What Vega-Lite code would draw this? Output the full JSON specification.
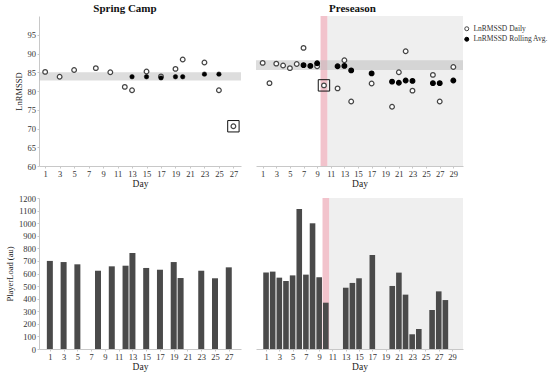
{
  "$schema": "https://vega.github.io/schema/vega-lite/v6.json",
  "padding": {"left": 5, "top": 3, "right": 5, "bottom": 5},
  "config": {
    "font": "Liberation Serif",
    "view": {"stroke": null},
    "axis": {"domainColor": "#c8c8c8", "tickColor": "#c8c8c8", "tickSize": 2, "labelFontSize": 8.5, "labelColor": "#333333", "titleFontSize": 9.5, "titleFontWeight": "normal", "titleColor": "#222222", "grid": false, "labelPadding": 1.5, "labelOverlap": false, "labelFlush": false, "format": "d"},
    "title": {"fontSize": 11, "fontWeight": "bold", "color": "#111111", "offset": 2}
  },
  "datasets": {
    "springHRV": [
      {"day": 1, "series": "LnRMSSD Daily", "value": 85.1, "flag": false},
      {"day": 3, "series": "LnRMSSD Daily", "value": 83.8, "flag": false},
      {"day": 5, "series": "LnRMSSD Daily", "value": 85.6, "flag": false},
      {"day": 8, "series": "LnRMSSD Daily", "value": 86.1, "flag": false},
      {"day": 10, "series": "LnRMSSD Daily", "value": 85.0, "flag": false},
      {"day": 12, "series": "LnRMSSD Daily", "value": 81.1, "flag": false},
      {"day": 13, "series": "LnRMSSD Daily", "value": 80.2, "flag": false},
      {"day": 15, "series": "LnRMSSD Daily", "value": 85.2, "flag": false},
      {"day": 17, "series": "LnRMSSD Daily", "value": 83.9, "flag": false},
      {"day": 19, "series": "LnRMSSD Daily", "value": 85.9, "flag": false},
      {"day": 20, "series": "LnRMSSD Daily", "value": 88.4, "flag": false},
      {"day": 23, "series": "LnRMSSD Daily", "value": 87.6, "flag": false},
      {"day": 25, "series": "LnRMSSD Daily", "value": 80.2, "flag": false},
      {"day": 27, "series": "LnRMSSD Daily", "value": 70.6, "flag": true},
      {"day": 13, "series": "LnRMSSD Rolling Avg.", "value": 83.8, "flag": false},
      {"day": 15, "series": "LnRMSSD Rolling Avg.", "value": 83.8, "flag": false},
      {"day": 17, "series": "LnRMSSD Rolling Avg.", "value": 83.5, "flag": false},
      {"day": 19, "series": "LnRMSSD Rolling Avg.", "value": 83.8, "flag": false},
      {"day": 20, "series": "LnRMSSD Rolling Avg.", "value": 83.8, "flag": false},
      {"day": 23, "series": "LnRMSSD Rolling Avg.", "value": 84.5, "flag": false},
      {"day": 25, "series": "LnRMSSD Rolling Avg.", "value": 84.5, "flag": false}
    ],
    "preHRV": [
      {"day": 1, "series": "LnRMSSD Daily", "value": 87.5, "flag": false},
      {"day": 2, "series": "LnRMSSD Daily", "value": 82.1, "flag": false},
      {"day": 3, "series": "LnRMSSD Daily", "value": 87.3, "flag": false},
      {"day": 4, "series": "LnRMSSD Daily", "value": 86.8, "flag": false},
      {"day": 5, "series": "LnRMSSD Daily", "value": 86.1, "flag": false},
      {"day": 6, "series": "LnRMSSD Daily", "value": 87.2, "flag": false},
      {"day": 7, "series": "LnRMSSD Daily", "value": 91.5, "flag": false},
      {"day": 9, "series": "LnRMSSD Daily", "value": 86.6, "flag": false},
      {"day": 10, "series": "LnRMSSD Daily", "value": 81.5, "flag": true},
      {"day": 12, "series": "LnRMSSD Daily", "value": 80.7, "flag": false},
      {"day": 13, "series": "LnRMSSD Daily", "value": 88.2, "flag": false},
      {"day": 14, "series": "LnRMSSD Daily", "value": 77.2, "flag": false},
      {"day": 17, "series": "LnRMSSD Daily", "value": 82.0, "flag": false},
      {"day": 20, "series": "LnRMSSD Daily", "value": 75.8, "flag": false},
      {"day": 21, "series": "LnRMSSD Daily", "value": 85.0, "flag": false},
      {"day": 22, "series": "LnRMSSD Daily", "value": 90.6, "flag": false},
      {"day": 23, "series": "LnRMSSD Daily", "value": 80.1, "flag": false},
      {"day": 26, "series": "LnRMSSD Daily", "value": 84.3, "flag": false},
      {"day": 27, "series": "LnRMSSD Daily", "value": 77.2, "flag": false},
      {"day": 29, "series": "LnRMSSD Daily", "value": 86.4, "flag": false},
      {"day": 7, "series": "LnRMSSD Rolling Avg.", "value": 86.9, "flag": false},
      {"day": 8, "series": "LnRMSSD Rolling Avg.", "value": 86.7, "flag": false},
      {"day": 9, "series": "LnRMSSD Rolling Avg.", "value": 87.4, "flag": false},
      {"day": 12, "series": "LnRMSSD Rolling Avg.", "value": 86.6, "flag": false},
      {"day": 13, "series": "LnRMSSD Rolling Avg.", "value": 86.7, "flag": false},
      {"day": 14, "series": "LnRMSSD Rolling Avg.", "value": 85.5, "flag": false},
      {"day": 17, "series": "LnRMSSD Rolling Avg.", "value": 84.7, "flag": false},
      {"day": 20, "series": "LnRMSSD Rolling Avg.", "value": 82.5, "flag": false},
      {"day": 21, "series": "LnRMSSD Rolling Avg.", "value": 82.2, "flag": false},
      {"day": 22, "series": "LnRMSSD Rolling Avg.", "value": 82.8, "flag": false},
      {"day": 23, "series": "LnRMSSD Rolling Avg.", "value": 82.7, "flag": false},
      {"day": 26, "series": "LnRMSSD Rolling Avg.", "value": 82.1, "flag": false},
      {"day": 27, "series": "LnRMSSD Rolling Avg.", "value": 82.1, "flag": false},
      {"day": 29, "series": "LnRMSSD Rolling Avg.", "value": 82.8, "flag": false}
    ],
    "springBand": [{"low": 82.8, "high": 85.0}],
    "preBand": [{"low": 85.6, "high": 88.2}],
    "phases": [
      {"phase": "transition", "start": 9.5, "end": 10.5},
      {"phase": "preseason", "start": 10.5, "end": 31}
    ],
    "springLoad": [
      {"day": 1, "load": 700}, {"day": 3, "load": 691}, {"day": 5, "load": 673},
      {"day": 8, "load": 622}, {"day": 10, "load": 657}, {"day": 12, "load": 662},
      {"day": 13, "load": 763}, {"day": 15, "load": 644}, {"day": 17, "load": 630},
      {"day": 19, "load": 691}, {"day": 20, "load": 564}, {"day": 23, "load": 622},
      {"day": 25, "load": 562}, {"day": 27, "load": 649}
    ],
    "preLoad": [
      {"day": 1, "load": 607}, {"day": 2, "load": 615}, {"day": 3, "load": 567},
      {"day": 4, "load": 540}, {"day": 5, "load": 585}, {"day": 6, "load": 1113},
      {"day": 7, "load": 591}, {"day": 8, "load": 999}, {"day": 9, "load": 570},
      {"day": 10, "load": 368}, {"day": 13, "load": 487}, {"day": 14, "load": 525},
      {"day": 15, "load": 562}, {"day": 17, "load": 747}, {"day": 20, "load": 501},
      {"day": 21, "load": 607}, {"day": 22, "load": 432}, {"day": 23, "load": 117},
      {"day": 24, "load": 159}, {"day": 26, "load": 310}, {"day": 27, "load": 458},
      {"day": 28, "load": 389}
    ]
  },
  "columns": 2,
  "spacing": {"row": 6, "column": 14},
  "concat": [
    {
      "width": 202, "height": 150,
      "title": {"text": "Spring Camp", "dx": -15},
      "layer": [
        {
          "data": {"name": "springBand"},
          "mark": {"type": "rect", "fill": "#bbbbbb", "opacity": 0.5},
          "encoding": {
            "x": {"value": 0}, "x2": {"value": "width"},
            "y": {"field": "low", "type": "quantitative", "scale": {"domain": [60, 100], "nice": false, "zero": false}, "title": "LnRMSSD", "axis": {"values": [60, 65, 70, 75, 80, 85, 90, 95], "titleFontSize": 8.5, "labelOverlap": false}},
            "y2": {"field": "high"}
          }
        },
        {
          "data": {"name": "springHRV"},
          "transform": [{"filter": "datum.series === 'LnRMSSD Daily'"}],
          "mark": {"type": "point", "shape": "circle", "filled": true, "fill": "white", "stroke": "#444444", "strokeWidth": 1.2, "size": 22, "opacity": 1},
          "encoding": {
            "x": {"field": "day", "type": "quantitative", "scale": {"domain": [0.15, 28.05], "nice": false, "zero": false}, "title": "Day", "axis": {"values": [1, 3, 5, 7, 9, 11, 13, 15, 17, 19, 21, 23, 25, 27], "titlePadding": 0, "labelOverlap": false}},
            "y": {"field": "value", "type": "quantitative", "title": "LnRMSSD", "axis": {"values": [60, 65, 70, 75, 80, 85, 90, 95], "titleFontSize": 8.5, "labelOverlap": false}}
          }
        },
        {
          "data": {"name": "springHRV"},
          "transform": [{"filter": "datum.series === 'LnRMSSD Rolling Avg.'"}],
          "mark": {"type": "point", "shape": "circle", "filled": true, "fill": "black", "stroke": "black", "strokeWidth": 0.5, "size": 20, "opacity": 1},
          "encoding": {
            "x": {"field": "day", "type": "quantitative", "title": "Day", "axis": {"values": [1, 3, 5, 7, 9, 11, 13, 15, 17, 19, 21, 23, 25, 27], "titlePadding": 0, "labelOverlap": false}},
            "y": {"field": "value", "type": "quantitative", "title": "LnRMSSD", "axis": {"values": [60, 65, 70, 75, 80, 85, 90, 95], "titleFontSize": 8.5, "labelOverlap": false}}
          }
        },
        {
          "data": {"name": "springHRV"},
          "transform": [{"filter": "datum.flag"}],
          "mark": {"type": "point", "shape": "square", "filled": false, "stroke": "#111111", "strokeWidth": 1, "size": 130, "opacity": 1},
          "encoding": {
            "x": {"field": "day", "type": "quantitative", "title": "Day", "axis": {"values": [1, 3, 5, 7, 9, 11, 13, 15, 17, 19, 21, 23, 25, 27], "titlePadding": 0, "labelOverlap": false}},
            "y": {"field": "value", "type": "quantitative", "title": "LnRMSSD", "axis": {"values": [60, 65, 70, 75, 80, 85, 90, 95], "titleFontSize": 8.5, "labelOverlap": false}}
          }
        }
      ]
    },
    {
      "width": 207, "height": 150,
      "title": {"text": "Preseason", "dx": -7},
      "layer": [
        {
          "data": {"name": "phases"},
          "transform": [{"filter": "datum.phase === 'preseason'"}],
          "mark": {"type": "rect", "fill": "#efefef", "clip": true},
          "encoding": {
            "x": {"field": "start", "type": "quantitative", "scale": {"domain": [0.02, 30.42], "nice": false, "zero": false}, "title": "Day", "axis": {"values": [1, 3, 5, 7, 9, 11, 13, 15, 17, 19, 21, 23, 25, 27, 29], "titlePadding": 0, "labelOverlap": false}},
            "x2": {"field": "end"},
            "y": {"value": 0}, "y2": {"value": "height"}
          }
        },
        {
          "data": {"name": "phases"},
          "transform": [{"filter": "datum.phase === 'transition'"}],
          "mark": {"type": "rect", "fill": "#f2c3cc"},
          "encoding": {
            "x": {"field": "start", "type": "quantitative", "title": "Day", "axis": {"values": [1, 3, 5, 7, 9, 11, 13, 15, 17, 19, 21, 23, 25, 27, 29], "titlePadding": 0, "labelOverlap": false}},
            "x2": {"field": "end"},
            "y": {"value": 0}, "y2": {"value": "height"}
          }
        },
        {
          "data": {"name": "preBand"},
          "mark": {"type": "rect", "fill": "#bbbbbb", "opacity": 0.5},
          "encoding": {
            "x": {"value": 0}, "x2": {"value": "width"},
            "y": {"field": "low", "type": "quantitative", "scale": {"domain": [60, 100], "nice": false, "zero": false}, "axis": null},
            "y2": {"field": "high"}
          }
        },
        {
          "data": {"name": "preHRV"},
          "mark": {"type": "point", "shape": "circle", "filled": true, "strokeWidth": 1.2, "size": 22, "opacity": 1},
          "encoding": {
            "x": {"field": "day", "type": "quantitative", "title": "Day", "axis": {"values": [1, 3, 5, 7, 9, 11, 13, 15, 17, 19, 21, 23, 25, 27, 29], "titlePadding": 0, "labelOverlap": false}},
            "y": {"field": "value", "type": "quantitative", "axis": null},
            "fill": {"field": "series", "type": "nominal", "scale": {"domain": ["LnRMSSD Daily", "LnRMSSD Rolling Avg."], "range": ["white", "black"]},
              "legend": {"orient": "none", "legendX": 207, "legendY": 9, "title": null, "labelFontSize": 7.5, "labelColor": "#333333", "symbolSize": 16, "symbolStrokeWidth": 1, "rowPadding": 1.5, "labelOffset": 3, "padding": 0}},
            "stroke": {"field": "series", "type": "nominal", "scale": {"domain": ["LnRMSSD Daily", "LnRMSSD Rolling Avg."], "range": ["#444444", "black"]}, "legend": null}
          }
        },
        {
          "data": {"name": "preHRV"},
          "transform": [{"filter": "datum.flag"}],
          "mark": {"type": "point", "shape": "square", "filled": false, "stroke": "#111111", "strokeWidth": 1, "size": 130, "opacity": 1},
          "encoding": {
            "x": {"field": "day", "type": "quantitative", "title": "Day", "axis": {"values": [1, 3, 5, 7, 9, 11, 13, 15, 17, 19, 21, 23, 25, 27, 29], "titlePadding": 0, "labelOverlap": false}},
            "y": {"field": "value", "type": "quantitative", "axis": null}
          }
        }
      ],
      "resolve": {"scale": {"fill": "independent", "stroke": "independent"}}
    },
    {
      "width": 202, "height": 151,
      "data": {"name": "springLoad"},
      "mark": {"type": "bar", "width": 6, "color": "#4a4a4a"},
      "encoding": {
        "x": {"field": "day", "type": "quantitative", "scale": {"domain": [0.15, 28.05], "nice": false, "zero": false}, "title": "Day", "axis": {"values": [1, 3, 5, 7, 9, 11, 13, 15, 17, 19, 21, 23, 25, 27], "titlePadding": 0, "labelOverlap": false}},
        "y": {"field": "load", "type": "quantitative", "scale": {"domain": [0, 1200], "nice": false}, "title": "PlayerLoad (au)", "axis": {"values": [0, 100, 200, 300, 400, 500, 600, 700, 800, 900, 1000, 1100, 1200], "titleFontSize": 8.5, "labelOverlap": false}}
      }
    },
    {
      "width": 207, "height": 151,
      "layer": [
        {
          "data": {"name": "phases"},
          "transform": [{"filter": "datum.phase === 'preseason'"}],
          "mark": {"type": "rect", "fill": "#efefef", "clip": true},
          "encoding": {
            "x": {"field": "start", "type": "quantitative", "scale": {"domain": [0.24, 29.9], "nice": false, "zero": false}, "title": "Day", "axis": {"values": [1, 3, 5, 7, 9, 11, 13, 15, 17, 19, 21, 23, 25, 27, 29], "titlePadding": 0, "labelOverlap": false}},
            "x2": {"field": "end"},
            "y": {"value": 0}, "y2": {"value": "height"}
          }
        },
        {
          "data": {"name": "phases"},
          "transform": [{"filter": "datum.phase === 'transition'"}],
          "mark": {"type": "rect", "fill": "#f2c3cc"},
          "encoding": {
            "x": {"field": "start", "type": "quantitative", "title": "Day", "axis": {"values": [1, 3, 5, 7, 9, 11, 13, 15, 17, 19, 21, 23, 25, 27, 29], "titlePadding": 0, "labelOverlap": false}},
            "x2": {"field": "end"},
            "y": {"value": 0}, "y2": {"value": "height"}
          }
        },
        {
          "data": {"name": "preLoad"},
          "mark": {"type": "bar", "width": 5.6, "color": "#4a4a4a"},
          "encoding": {
            "x": {"field": "day", "type": "quantitative", "title": "Day", "axis": {"values": [1, 3, 5, 7, 9, 11, 13, 15, 17, 19, 21, 23, 25, 27, 29], "titlePadding": 0, "labelOverlap": false}},
            "y": {"field": "load", "type": "quantitative", "scale": {"domain": [0, 1200], "nice": false}, "axis": null}
          }
        }
      ]
    }
  ]
}
